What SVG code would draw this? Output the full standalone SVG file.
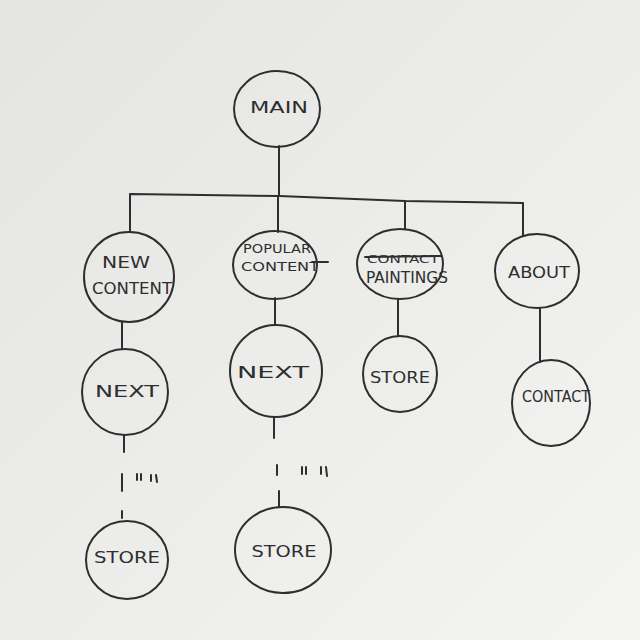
<svg xmlns="http://www.w3.org/2000/svg" width="640" height="640" viewBox="0 0 640 640">
<defs>
<linearGradient id="paper" x1="0" y1="0" x2="1" y2="1">
<stop offset="0" stop-color="#e4e4e2"/>
<stop offset="0.5" stop-color="#ececea"/>
<stop offset="1" stop-color="#f4f4f2"/>
</linearGradient>
<style>
.ink{fill:none;stroke:#2e2e2e;stroke-width:2;stroke-linecap:round;stroke-linejoin:round}
.node{fill:none;stroke:#2e2e2e;stroke-width:2}
.lbl{font-family:"DejaVu Sans","Liberation Sans",sans-serif;font-size:15px;fill:#2e2e2e;text-anchor:middle}
.sm{font-size:11px}
.md{font-size:13px}
</style>
</defs>
<rect width="640" height="640" fill="url(#paper)"/>
<g id="connectors">
<path class="ink" d="M279 146 L279 196"/>
<path class="ink" d="M130 232 L130 194 L279 196 L405 201 L523 203 L523 235"/>
<path class="ink" d="M278 196 L278 232"/>
<path class="ink" d="M405 201 L405 229"/>
<path class="ink" d="M540 308 L540 362"/>
<path class="ink" d="M398 299 L398 336"/>
<path class="ink" d="M122 322 L122 348"/>
<path class="ink" d="M124 435 L124 452"/>
<path class="ink" d="M122 474 L122 491 M137 474 L137 480 M141 474 L141 480 M151 475 L151 481 M156 475 L157 482 M122 511 L122 518"/>
<path class="ink" d="M275 298 L275 325"/>
<path class="ink" d="M274 417 L274 438"/>
<path class="ink" d="M277 465 L277 475 M302 467 L302 474 M306 467 L306 474 M321 467 L321 474 M326 467 L327 476 M279 491 L279 507"/>
</g>
<g id="main"><ellipse class="node" cx="277" cy="109" rx="43" ry="38"/><text class="lbl" x="279" y="113" textLength="58" lengthAdjust="spacingAndGlyphs">MAIN</text></g>
<g id="new-content"><ellipse class="node" cx="129" cy="277" rx="45" ry="45"/><text class="lbl" x="126" y="268" textLength="48" lengthAdjust="spacingAndGlyphs">NEW</text><text class="lbl" x="132" y="294" textLength="80" lengthAdjust="spacingAndGlyphs">CONTENT</text></g>
<g id="popular-content"><ellipse class="node" cx="275" cy="265" rx="42" ry="34"/><text class="lbl md" x="277" y="253" textLength="68" lengthAdjust="spacingAndGlyphs">POPULAR</text><text class="lbl md" x="280" y="271" textLength="78" lengthAdjust="spacingAndGlyphs">CONTENT</text><path class="ink" d="M312 262 L328 262"/></g>
<g id="paintings"><ellipse class="node" cx="400" cy="264" rx="43" ry="35"/><text class="lbl sm" x="403" y="263" textLength="72" lengthAdjust="spacingAndGlyphs">CONTACT</text><path class="ink" d="M365 257 L441 256"/><text class="lbl" x="407" y="283" textLength="82" lengthAdjust="spacingAndGlyphs">PAINTINGS</text></g>
<g id="about"><ellipse class="node" cx="537" cy="271" rx="42" ry="37"/><text class="lbl" x="539" y="278" textLength="62" lengthAdjust="spacingAndGlyphs">ABOUT</text></g>
<g id="contact"><ellipse class="node" cx="551" cy="403" rx="39" ry="43"/><text class="lbl" x="556" y="402" textLength="68" lengthAdjust="spacingAndGlyphs">CONTACT</text></g>
<g id="store-paintings"><ellipse class="node" cx="400" cy="374" rx="37" ry="38"/><text class="lbl" x="400" y="383" textLength="60" lengthAdjust="spacingAndGlyphs">STORE</text></g>
<g id="next-1"><ellipse class="node" cx="125" cy="392" rx="43" ry="43"/><text class="lbl" x="127" y="397" textLength="64" lengthAdjust="spacingAndGlyphs">NEXT</text></g>
<g id="next-2"><ellipse class="node" cx="276" cy="371" rx="46" ry="46"/><text class="lbl" x="273" y="378" textLength="72" lengthAdjust="spacingAndGlyphs">NEXT</text></g>
<g id="store-1"><ellipse class="node" cx="127" cy="560" rx="41" ry="39"/><text class="lbl" x="127" y="563" textLength="66" lengthAdjust="spacingAndGlyphs">STORE</text></g>
<g id="store-2"><ellipse class="node" cx="283" cy="550" rx="48" ry="43"/><text class="lbl" x="284" y="557" textLength="65" lengthAdjust="spacingAndGlyphs">STORE</text></g>
</svg>
